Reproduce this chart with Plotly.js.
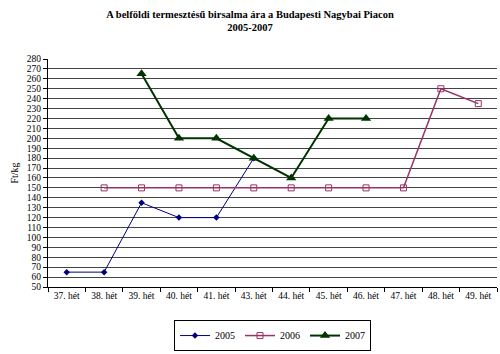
<!DOCTYPE html>
<html>
<head>
<meta charset="utf-8">
<script src="https://cdn.plot.ly/plotly-3.0.1.min.js"></script>
<style>html,body{margin:0;padding:0;background:#fff;}#chart{width:500px;height:354px;}</style>
</head>
<body>
<div id="chart"></div>
<script>
const categories = ["37. hét","38. hét","39. hét","40. hét","41. hét","43. hét","44. hét","45. hét","46. hét","47. hét","48. hét","49. hét"];
const cat2005 = ["37. hét","38. hét","39. hét","40. hét","41. hét","43. hét"];
const val2005 = [65, 65, 135, 120, 120, 180];
const cat2006 = ["38. hét","39. hét","40. hét","41. hét","43. hét","44. hét","45. hét","46. hét","47. hét","48. hét","49. hét"];
const val2006 = [150, 150, 150, 150, 150, 150, 150, 150, 150, 250, 235];
const cat2007 = ["39. hét","40. hét","41. hét","43. hét","44. hét","45. hét","46. hét"];
const val2007 = [265, 200, 200, 180, 160, 220, 220];
const yTicks = [];
for (let v = 50; v <= 280; v += 10) yTicks.push(v);

const serif = "Liberation Serif, Times New Roman, serif";
const traces = [
  {x: cat2005, y: val2005, name: "2005", type: "scatter", mode: "lines+markers",
   line: {color: "#000080", width: 1}, marker: {symbol: "diamond", size: 5, color: "#000080"}},
  {x: cat2006, y: val2006, name: "2006", type: "scatter", mode: "lines+markers",
   line: {color: "#993366", width: 1.5}, marker: {symbol: "square-open", size: 6, color: "#993366", line: {width: 1}}},
  {x: cat2007, y: val2007, name: "2007", type: "scatter", mode: "lines+markers",
   line: {color: "#003300", width: 2}, marker: {symbol: "triangle-up", size: 9, color: "#003300"}}
];
const layout = {
  width: 500, height: 354,
  margin: {l: 48, r: 3, t: 59, b: 51},
  paper_bgcolor: "#fff", plot_bgcolor: "#fff",
  font: {family: serif, size: 9, color: "#000"},
  title: {text: "<b>A belföldi termesztésű birsalma ára a Budapesti Nagybai Piacon<br>2005-2007</b>",
          font: {family: serif, size: 10.5, color: "#000"}, x: 0.5, xanchor: "center",
          yref: "container", y: 0.95, yanchor: "top"},
  xaxis: {type: "category", categoryorder: "array", categoryarray: categories,
          range: [-0.5, categories.length - 0.5], tickson: "boundaries", ticks: "outside", ticklen: 4,
          tickcolor: "#000", showline: true, linecolor: "#000", linewidth: 1, showgrid: false,
          tickfont: {family: serif, size: 9.5}, fixedrange: true},
  yaxis: {range: [50, 280], tickvals: yTicks, ticks: "outside", ticklen: 4, tickcolor: "#000",
          showline: true, linecolor: "#000", linewidth: 1, showgrid: true, gridcolor: "#444", gridwidth: 1,
          zeroline: false, tickfont: {family: serif, size: 9.5},
          title: {text: "Ft/kg", font: {family: serif, size: 10}, standoff: 6}},
  legend: {orientation: "h", x: 0.5, xanchor: "center", y: -0.145, yanchor: "top",
           bordercolor: "#000", borderwidth: 1, font: {family: serif, size: 10},
           tracegroupgap: 0, itemwidth: 30},
  showlegend: true
};
Plotly.newPlot("chart", traces, layout, {displayModeBar: false, staticPlot: true});
</script>
</body>
</html>
